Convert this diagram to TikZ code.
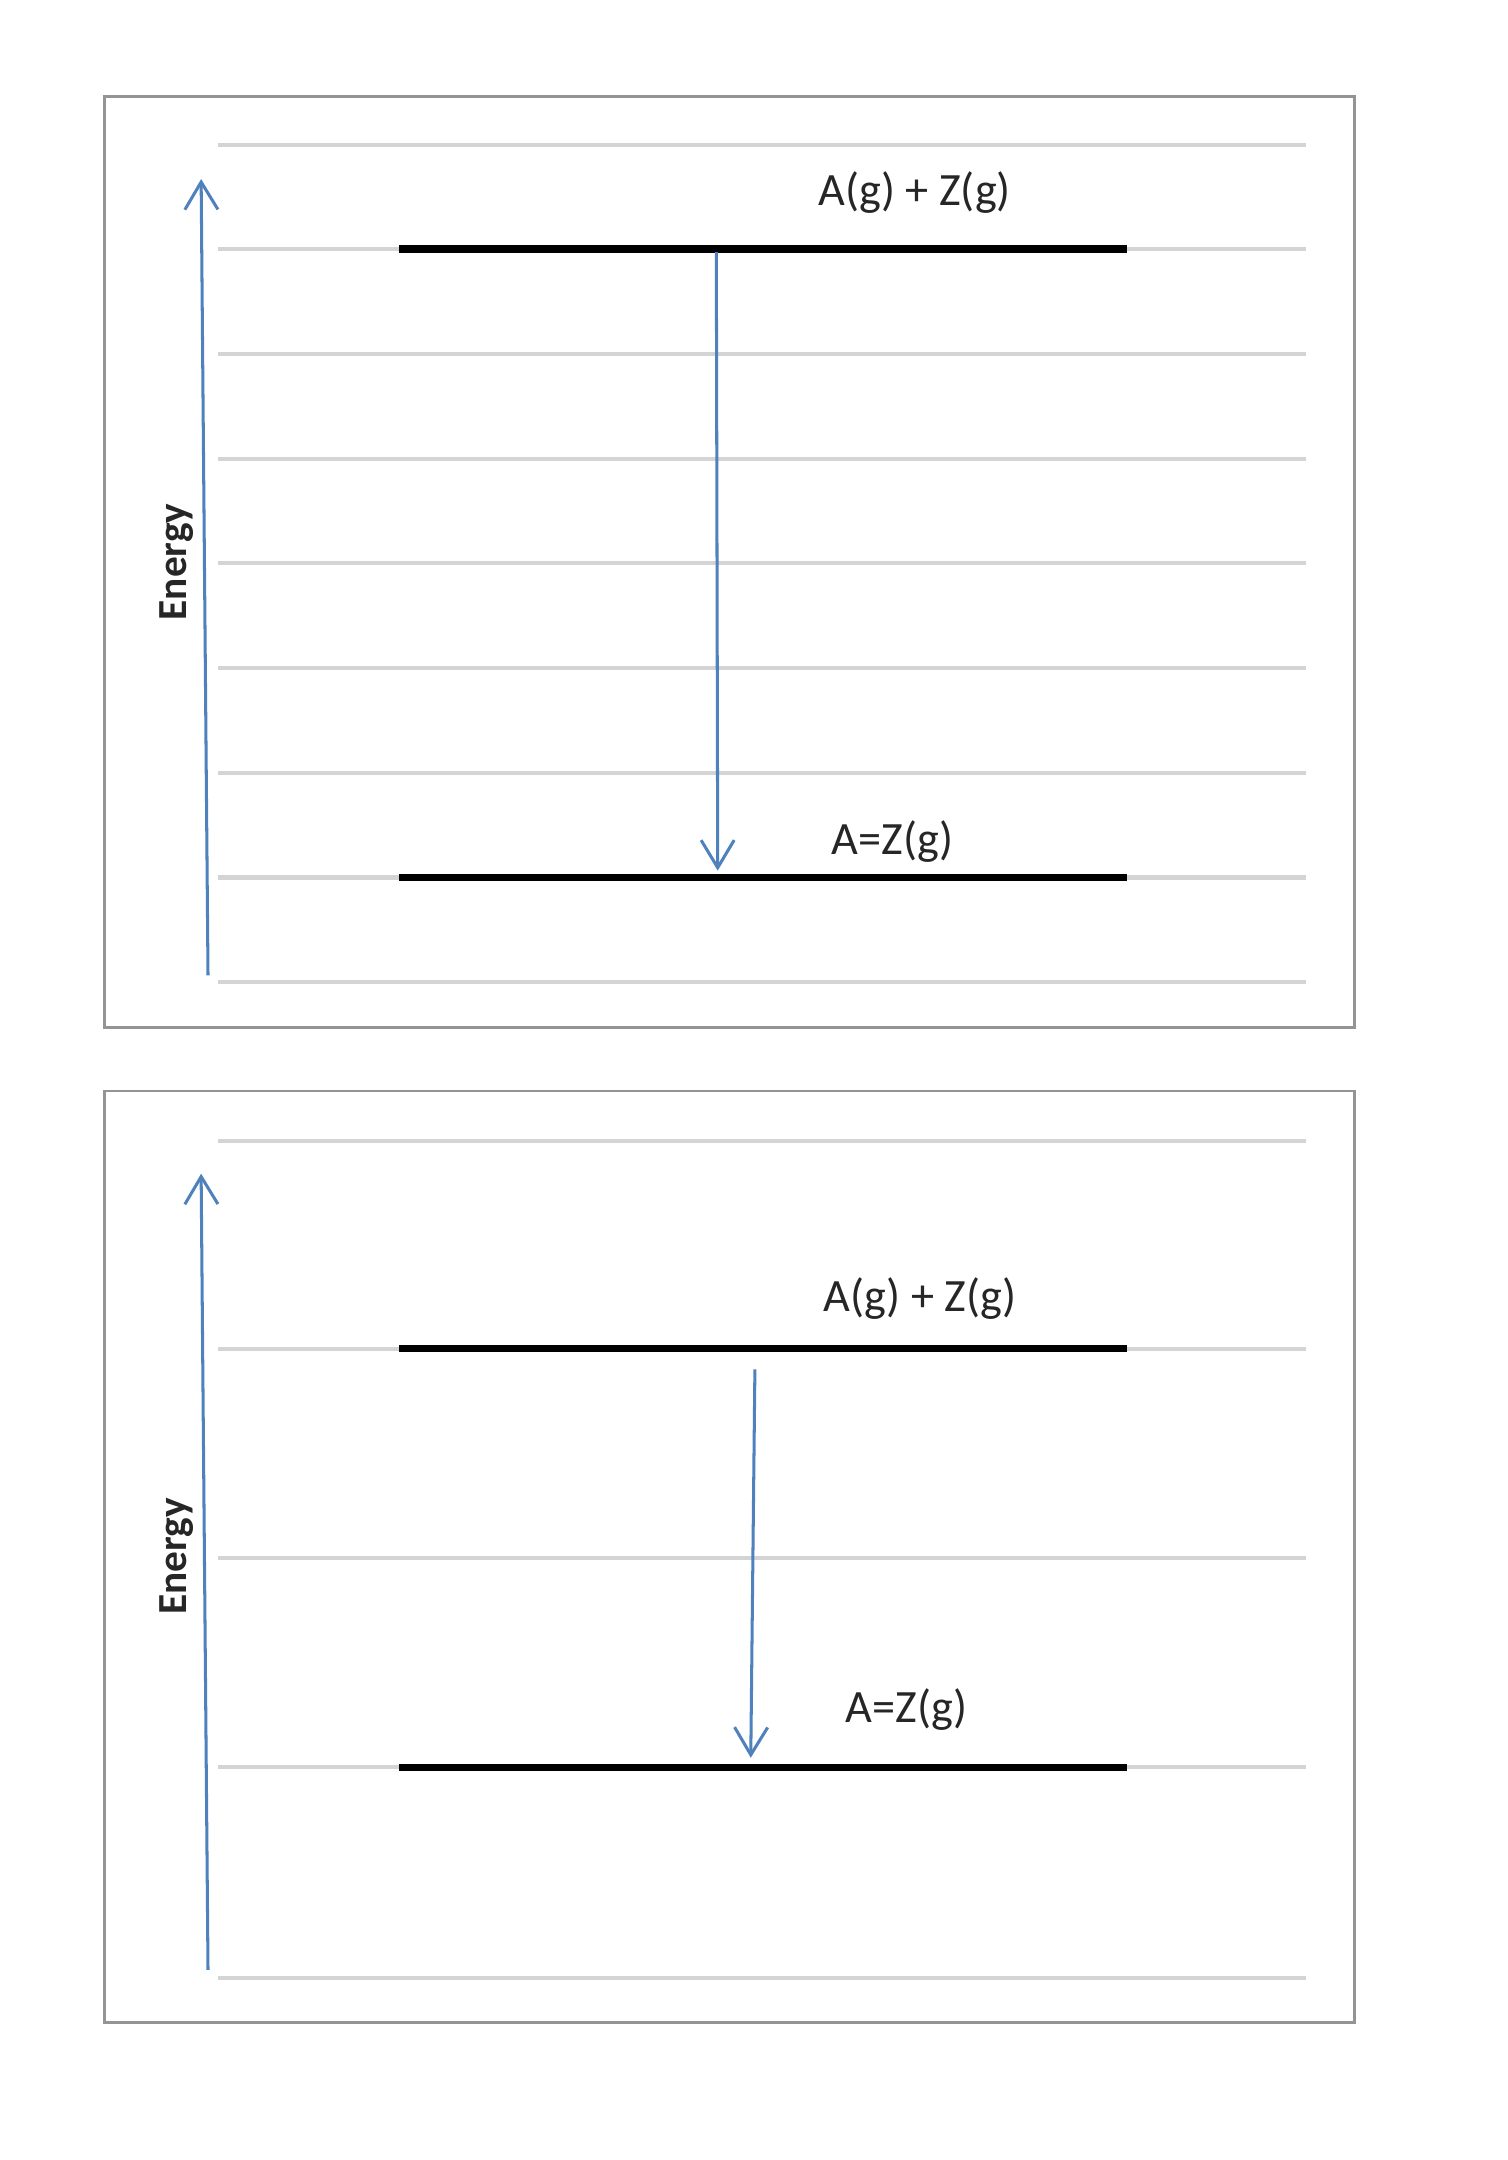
\documentclass[tikz,border=0pt]{standalone}
\usepackage{fontspec}
\setmainfont{Carlito}
\usetikzlibrary{arrows.meta, positioning}
\definecolor{axisblue}{RGB}{79,129,189}

\begin{document}
\begin{tikzpicture}[x=0.5pt, y=-0.5pt,
	frame/.style={draw=black!42, line width=1pt},
	grid/.style={draw=black!17, line width=1.5pt},
	level/.style={draw=black, line width=2.8pt},
	blue arrow/.style={draw=axisblue, line width=1.1pt, -{Straight Barb[length=10pt,width=12pt,line width=1.1pt]}},
	state/.style={text=black!85, font=\fontsize{16.8}{20}\selectfont},
	axislabel/.style={rotate=90, text=black!85, font=\bfseries\fontsize{15}{18}\selectfont}]
	\fill[white] (0,0) rectangle (1094,1568);
	\useasboundingbox (0,0) rectangle (1094,1568);

	% upper panel
	\draw[frame] (76,70) rectangle (983,746);
	\foreach \y in {105,181,...,714}
		\draw[grid] (158,\y) -- (948,\y);
	\draw[level] (290,181) -- (818,181);
	\draw[level] (290,637) -- (818,637);
	\coordinate (e1) at (151,708);
	\coordinate (f1) at (146,130);
	\coordinate (u1) at (520,183);
	\coordinate (d1) at (521,632);
	\draw[blue arrow] (e1) -- (f1);
	\draw[blue arrow] (u1) -- (d1);
	\node[axislabel] (en1) at (128,408) {Energy};
	\node[state] (high1) at (664,140) {A(g) + Z(g)};
	\node[state] (low1) at (648,611) {A=Z(g)};

	% lower panel
	\draw[frame] (76,792) rectangle (983,1468);
	\foreach \y in {828,979,1131,1283,1436}
		\draw[grid] (158,\y) -- (948,\y);
	\draw[level] (290,979) -- (818,979);
	\draw[level] (290,1283) -- (818,1283);
	\coordinate (e2) at (151,1430);
	\coordinate (f2) at (146,852);
	\coordinate (u2) at (548,994);
	\coordinate (d2) at (545,1276);
	\draw[blue arrow] (e2) -- (f2);
	\draw[blue arrow] (u2) -- (d2);
	\node[axislabel] (en2) at (128,1130) {Energy};
	\node[state] (high2) at (668,943) {A(g) + Z(g)};
	\node[state] (low2) at (658,1241) {A=Z(g)};
\end{tikzpicture}
\end{document}
